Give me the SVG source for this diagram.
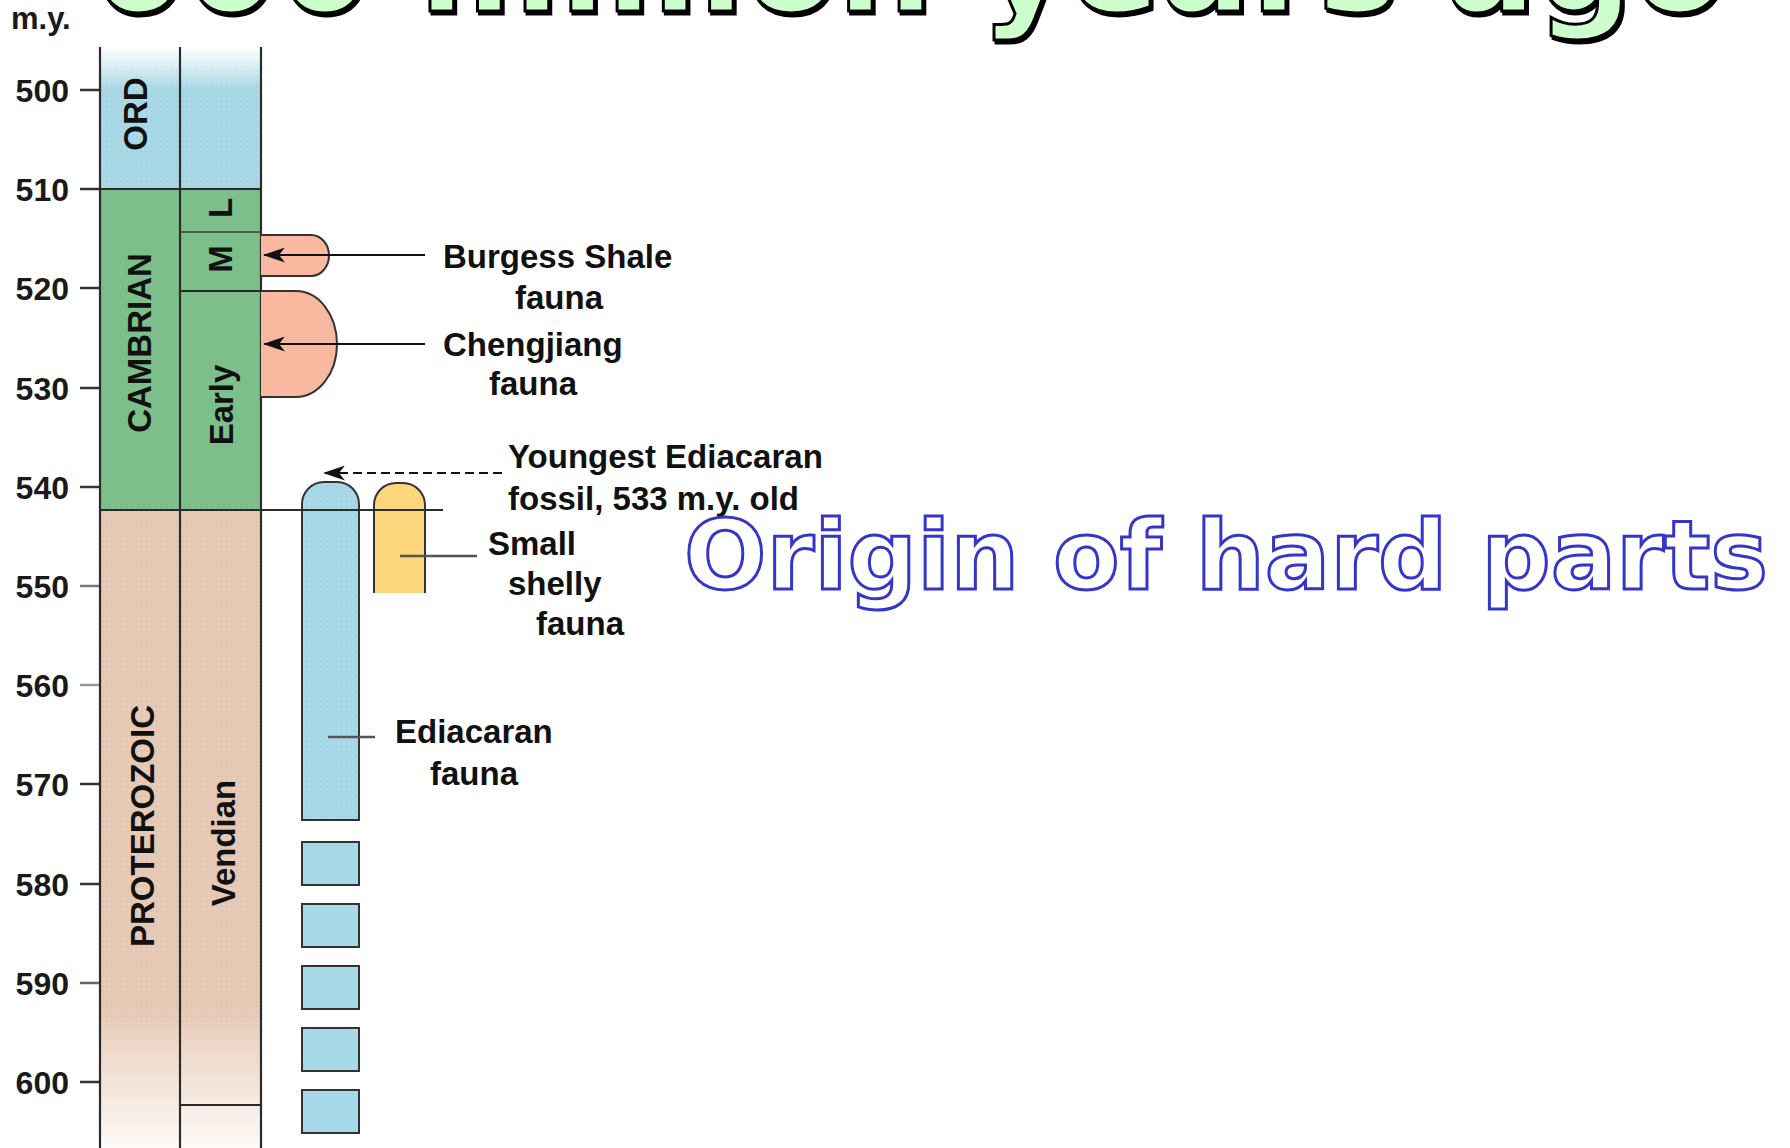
<svg xmlns="http://www.w3.org/2000/svg" width="1790" height="1148" viewBox="0 0 1790 1148">
<style>
.tick{stroke:#333;stroke-width:2.5}
.tl{font-family:"Liberation Sans",Arial,sans-serif;font-size:32px;font-weight:bold;fill:#1a1a1a;text-anchor:end}
.lb{font-family:"Liberation Sans",Arial,sans-serif;font-size:33px;font-weight:bold;fill:#111}
.col{font-family:"Liberation Sans",Arial,sans-serif;font-size:33px;font-weight:bold;fill:#111;text-anchor:middle}
.bd{stroke:#2b2b2b;stroke-width:2.2;fill:none}
.thin{stroke:#3a3a3a;stroke-width:1.6;fill:none}
.rng{stroke:#333;stroke-width:2;}
.ptr{stroke:#111;stroke-width:2.2;fill:none}
.gl{stroke:#555;stroke-width:2.6;fill:none}
</style>
<defs>
<linearGradient id="ordG" x1="0" y1="47" x2="0" y2="189" gradientUnits="userSpaceOnUse">
<stop offset="0" stop-color="#ffffff"/>
<stop offset="0.3" stop-color="#a9d9e6"/>
<stop offset="1" stop-color="#a9d9e6"/>
</linearGradient>
<linearGradient id="tanG" x1="0" y1="510" x2="0" y2="1148" gradientUnits="userSpaceOnUse">
<stop offset="0" stop-color="#e7cab6"/>
<stop offset="0.78" stop-color="#e7cab6"/>
<stop offset="1" stop-color="#fdfaf8"/>
</linearGradient>
<pattern id="dots" width="5" height="5" patternUnits="userSpaceOnUse">
<circle cx="1.5" cy="1.5" r="0.8" fill="#000" fill-opacity="0.07"/>
</pattern>
<marker id="ah" viewBox="0 0 22 15" refX="21" refY="7.5" markerWidth="22" markerHeight="15" markerUnits="userSpaceOnUse" orient="auto">
<path d="M22,7.5 L0,0 L6,7.5 L0,15 Z" fill="#111"/>
</marker>
<filter id="shadow" x="-5%" y="-50%" width="110%" height="200%">
<feOffset in="SourceAlpha" dx="2" dy="3" result="o"/>
<feFlood flood-color="#000"/>
<feComposite in2="o" operator="in" result="s"/>
<feMerge><feMergeNode in="s"/><feMergeNode in="SourceGraphic"/></feMerge>
</filter>
</defs>
<rect width="1790" height="1148" fill="#fff"/>

<g id="title">
<text x="90" y="11" font-family="DejaVu Sans,sans-serif" font-size="135" font-weight="bold" fill="#ccffcc" stroke="#000" stroke-width="3" filter="url(#shadow)">600 million years ago</text>
</g>

<g id="axis">
<text x="11" y="29" font-family="Liberation Sans,Arial,sans-serif" font-size="31" font-weight="bold" fill="#1a1a1a">m.y.</text>
<line class="tick" x1="80" y1="90" x2="100" y2="90"/>
<line class="tick" x1="80" y1="189" x2="100" y2="189"/>
<line class="tick" x1="80" y1="288" x2="100" y2="288"/>
<line class="tick" x1="80" y1="388" x2="100" y2="388"/>
<line class="tick" x1="80" y1="487" x2="100" y2="487"/>
<line class="tick" x1="80" y1="586" x2="100" y2="586" style="stroke:#777"/>
<line class="tick" x1="80" y1="685" x2="100" y2="685" style="stroke:#999"/>
<line class="tick" x1="80" y1="784" x2="100" y2="784"/>
<line class="tick" x1="80" y1="884" x2="100" y2="884"/>
<line class="tick" x1="80" y1="983" x2="100" y2="983" style="stroke:#666"/>
<line class="tick" x1="80" y1="1082" x2="100" y2="1082"/>
<text class="tl" x="69" y="102">500</text>
<text class="tl" x="69" y="201">510</text>
<text class="tl" x="69" y="300">520</text>
<text class="tl" x="69" y="400">530</text>
<text class="tl" x="69" y="499">540</text>
<text class="tl" x="69" y="598">550</text>
<text class="tl" x="69" y="697">560</text>
<text class="tl" x="69" y="796">570</text>
<text class="tl" x="69" y="896">580</text>
<text class="tl" x="69" y="995">590</text>
<text class="tl" x="69" y="1094">600</text>
</g>

<g id="ord">
<rect x="100" y="47" width="161" height="142" fill="url(#ordG)"/>
<rect x="100" y="70" width="161" height="119" fill="url(#dots)"/>
<text class="col" transform="translate(147,114) rotate(-90)">ORD</text>
</g>

<g id="cambrian">
<rect x="100" y="189" width="161" height="321" fill="#7cbf8b"/>
<text class="col" transform="translate(151,343) rotate(-90)">CAMBRIAN</text>
<text class="col" transform="translate(232,208) rotate(-90)">L</text>
<text class="col" transform="translate(232,259) rotate(-90)">M</text>
<text class="col" transform="translate(233,405) rotate(-90)">Early</text>
</g>

<g id="proterozoic">
<rect x="100" y="510" width="161" height="638" fill="url(#tanG)"/>
<rect x="100" y="510" width="161" height="520" fill="url(#dots)"/>
<text class="col" transform="translate(154,826) rotate(-90)">PROTEROZOIC</text>
<text class="col" transform="translate(235,843) rotate(-90)">Vendian</text>
</g>

<g id="column-lines">
<line class="bd" x1="100" y1="47" x2="100" y2="1148"/>
<line class="bd" x1="180" y1="47" x2="180" y2="1148"/>
<line class="bd" x1="261" y1="47" x2="261" y2="1148"/>
<line class="bd" x1="100" y1="189" x2="261" y2="189"/>
<line class="thin" x1="180" y1="232" x2="261" y2="232"/>
<line class="bd" x1="180" y1="291" x2="261" y2="291"/>
<line class="bd" x1="180" y1="1105" x2="261" y2="1105"/>
</g>

<g id="burgess-range">
<path d="M261,235 H311 A18,20.5 0 0 1 311,276 H261 Z" fill="#f9b9a0"/>
<path class="rng" d="M261,235 H311 A18,20.5 0 0 1 311,276 H261" fill="none"/>
</g>

<g id="chengjiang-range">
<path d="M261,291 H296 A41,53 0 0 1 296,397 H261 Z" fill="#f9b9a0"/>
<path class="rng" d="M261,291 H296 A41,53 0 0 1 296,397 H261" fill="none"/>
</g>

<g id="ediacaran-range">
<path d="M302,820 V504 A22,22 0 0 1 324,482 H337 A22,22 0 0 1 359,504 V820 Z" fill="#a8d9e8" class="rng"/>
<path d="M302,820 V504 A22,22 0 0 1 324,482 H337 A22,22 0 0 1 359,504 V820 Z" fill="url(#dots)"/>
<rect x="302" y="842" width="57" height="43" fill="#a8d9e8" class="rng"/>
<rect x="302" y="904" width="57" height="43" fill="#a8d9e8" class="rng"/>
<rect x="302" y="966" width="57" height="43" fill="#a8d9e8" class="rng"/>
<rect x="302" y="1028" width="57" height="43" fill="#a8d9e8" class="rng"/>
<rect x="302" y="1090" width="57" height="43" fill="#a8d9e8" class="rng"/>
</g>

<g id="small-shelly-range">
<path d="M374,593 V505 A22,22 0 0 1 396,483 H403 A22,22 0 0 1 425,505 V593 Z" fill="#fdd57b"/>
<path class="rng" d="M374,593 V505 A22,22 0 0 1 396,483 H403 A22,22 0 0 1 425,505 V593" fill="none"/>
</g>

<g id="boundary">
<line class="bd" x1="100" y1="510" x2="443" y2="510"/>
</g>

<g id="connectors">
<line class="ptr" x1="425" y1="255" x2="264" y2="255" marker-end="url(#ah)"/>
<line class="ptr" x1="425" y1="344" x2="264" y2="344" marker-end="url(#ah)"/>
<line class="ptr" x1="502" y1="473" x2="324" y2="473" stroke-dasharray="9 5" marker-end="url(#ah)"/>
<line class="gl" x1="400" y1="556" x2="477" y2="556"/>
<line class="gl" x1="328" y1="737" x2="375" y2="737"/>
</g>

<g id="labels">
<text class="lb" x="443" y="268">Burgess Shale</text>
<text class="lb" x="515" y="309">fauna</text>
<text class="lb" x="443" y="356">Chengjiang</text>
<text class="lb" x="489" y="395">fauna</text>
<text class="lb" x="508" y="468">Youngest Ediacaran</text>
<text class="lb" x="508" y="510">fossil, 533 m.y. old</text>
<text class="lb" x="488" y="555">Small</text>
<text class="lb" x="508" y="595">shelly</text>
<text class="lb" x="536" y="635">fauna</text>
<text class="lb" x="395" y="743">Ediacaran</text>
<text class="lb" x="430" y="785">fauna</text>
</g>

<g id="origin">
<text x="684" y="589" font-family="DejaVu Sans,Verdana,sans-serif" font-size="97" font-weight="bold" fill="#fff" stroke="#3535cc" stroke-width="3">Origin of hard parts</text>
</g>
</svg>
